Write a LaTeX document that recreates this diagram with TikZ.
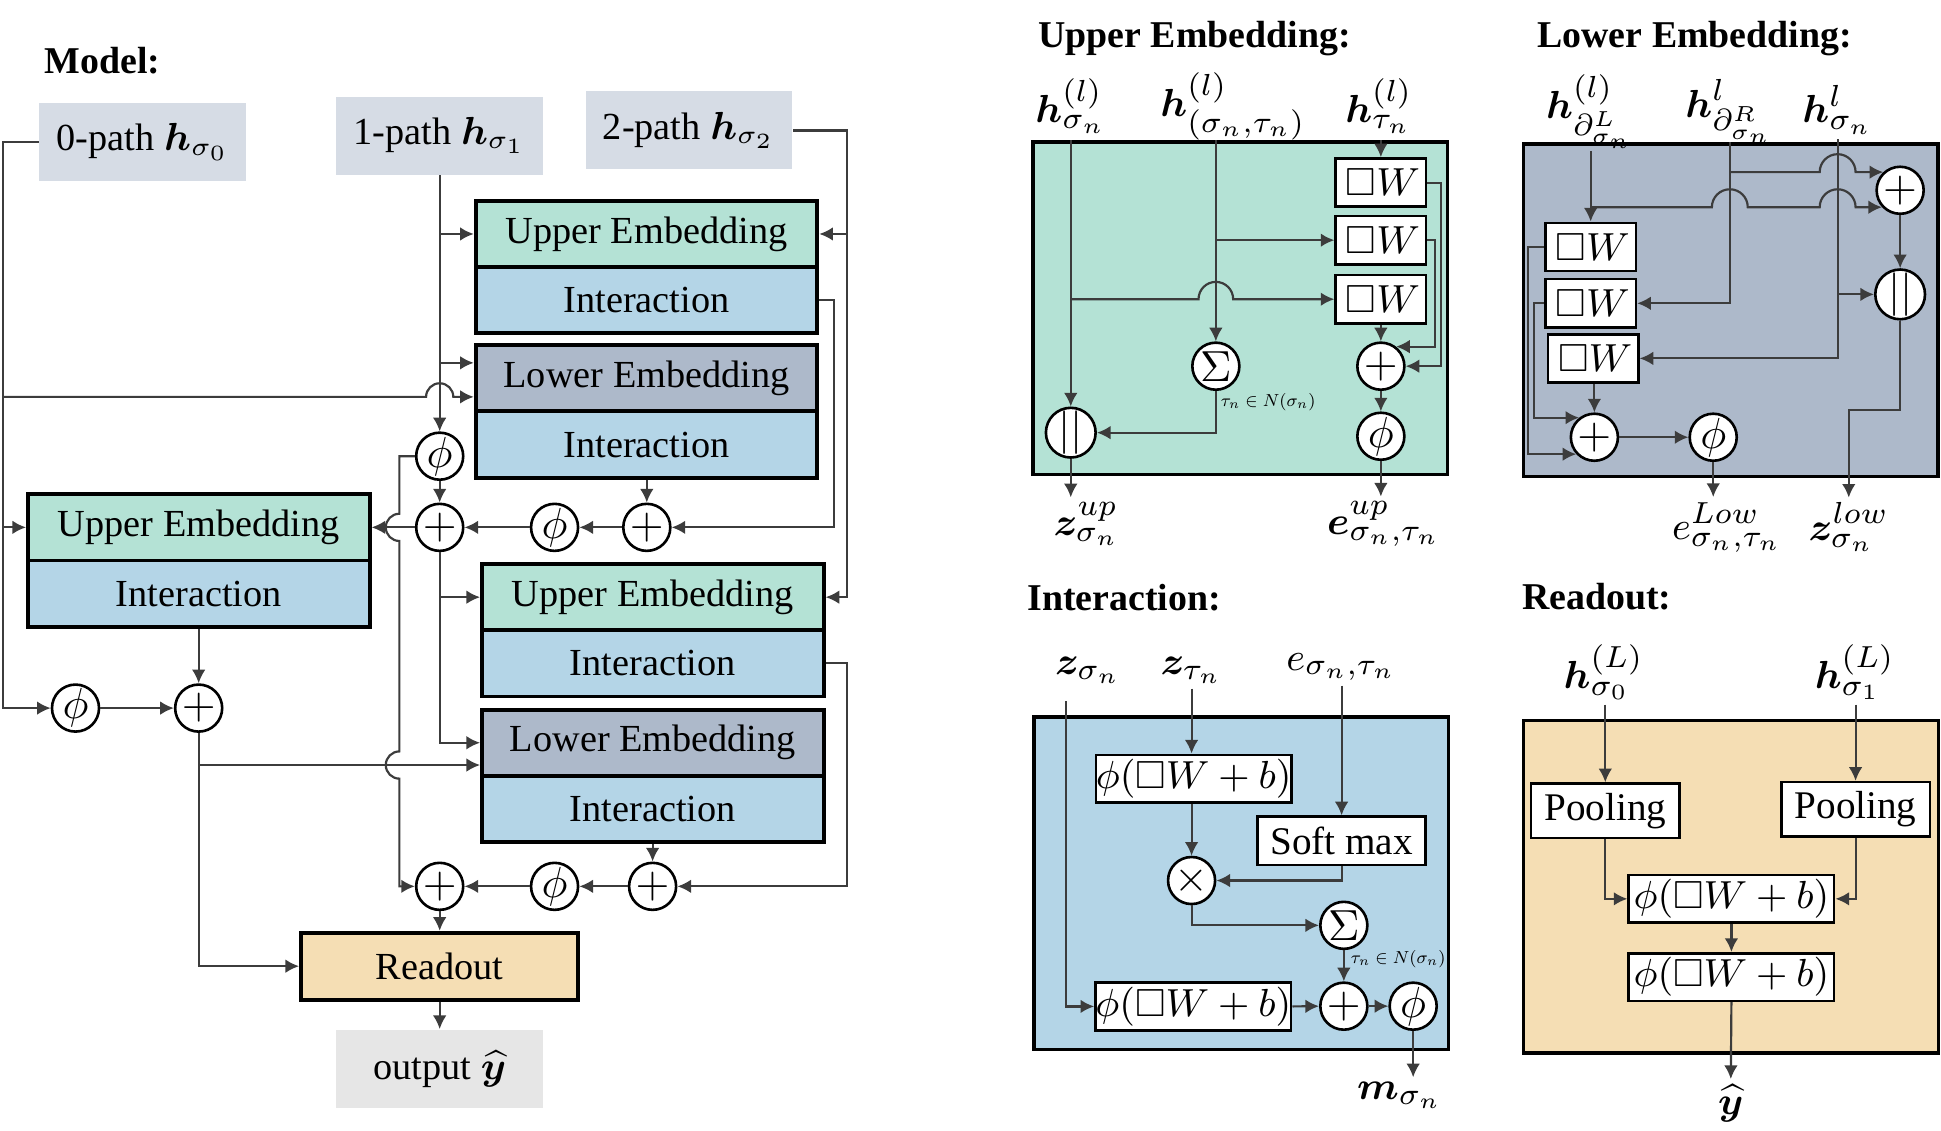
\documentclass[tikz,border=0pt]{standalone}
\usepackage{amsmath,amssymb,bm,graphicx}
\usepackage{fontspec}
\setmainfont{Liberation Serif}
\usetikzlibrary{arrows.meta}
\definecolor{upc}{RGB}{180,226,213}
\definecolor{intc}{RGB}{180,213,231}
\definecolor{lowc}{RGB}{173,185,202}
\definecolor{readc}{RGB}{245,222,180}
\definecolor{inc}{RGB}{214,220,229}
\definecolor{outc}{RGB}{230,230,230}
\definecolor{linec}{RGB}{60,60,60}
\newcommand{\nbh}{\scalebox{0.5}{$\tau_n\in N(\sigma_n)$}}
\tikzset{
  con/.style={->, draw=linec, line width=0.5pt},
  head/.style={font=\bfseries\fontsize{8.7}{10}\selectfont, inner sep=0pt},
  txt/.style={font=\fontsize{8.8}{10}\selectfont},
  inbox/.style={txt, fill=inc, minimum width=16.7mm, minimum height=6.3mm, inner sep=0pt},
  blk/.style={txt, draw=black, line width=0.9pt, minimum width=27.6mm, minimum height=5.35mm, inner sep=0pt},
  upbox/.style={blk, fill=upc},
  lowbox/.style={blk, fill=lowc},
  intbox/.style={blk, fill=intc},
  opc/.style={circle, draw=black, line width=0.6pt, fill=white, minimum size=3.8mm, inner sep=0pt, font=\fontsize{10}{10}\selectfont},
  panel/.style={draw=black, line width=0.8pt, minimum width=33.5mm, minimum height=26.85mm, inner sep=0pt},
  wbox/.style={draw=black, line width=0.6pt, fill=white, minimum height=3.9mm, inner ysep=0pt, inner xsep=0.5mm, text width=6.3mm, align=right, font=\fontsize{9}{10}\selectfont},
  tbox/.style={draw=black, line width=0.6pt, fill=white, inner sep=0pt, font=\fontsize{9}{10}\selectfont},
  actbox/.style={tbox, minimum width=15.4mm, minimum height=3.85mm},
  lab/.style={font=\fontsize{9.5}{11}\selectfont, inner sep=1pt},
  cond/.style={font=\fontsize{8}{9}\selectfont, inner sep=0pt}
}
\begin{document}
\begin{tikzpicture}[x=0.1mm, y=-0.1mm, node distance=5.35mm, >={Latex[length=1.1mm,width=1.1mm]}]
\useasboundingbox (0,0) rectangle (1568,913.6);
\node[head] (M) at (83,49) {Model:};
\node[inbox] (P0) at (115.4,114.7) {0-path $\bm{h}_{\sigma_0}$};
\node[inbox] (P1) at (355.2,109.5) {1-path $\bm{h}_{\sigma_1}$};
\node[inbox] (P2) at (556.6,105.4) {2-path $\bm{h}_{\sigma_2}$};
\node[upbox] (U1) at (522.3,189) {Upper Embedding};
\node[intbox] (I1) [below of=U1] {Interaction};
\node[lowbox] (L1) at (522.3,305.6) {Lower Embedding};
\node[intbox] (I2) [below of=L1] {Interaction};
\node[upbox] (U0) at (160.6,426) {Upper Embedding};
\node[intbox] (I0) [below of=U0] {Interaction};
\node[upbox] (U2) at (527.4,482.4) {Upper Embedding};
\node[intbox] (I3) [below of=U2] {Interaction};
\node[lowbox] (L2) at (527.4,600) {Lower Embedding};
\node[intbox] (I4) [below of=L2] {Interaction};
\node[blk, fill=readc, minimum width=22.4mm, minimum height=5.4mm] (R) at (355.2,780.5) {Readout};
\node[inbox, fill=outc] (O) at (355.2,863.5) {output $\widehat{\bm{y}}$};
\node[opc] (fa) at (355.2,368.5) {$\phi$};
\node[opc] (sa) at (355.2,426) {$+$};
\node[opc] (fb) at (448,426) {$\phi$};
\node[opc] (sb) at (522.5,426) {$+$};
\node[opc] (fc) at (61,572) {$\phi$};
\node[opc] (sc) at (160.5,572) {$+$};
\node[opc] (sd) at (355.2,716) {$+$};
\node[opc] (fd) at (448,716) {$\phi$};
\node[opc] (se) at (527.2,716) {$+$};
\coordinate (c0) at (2.5,115.8);
\coordinate (c1) at ([xshift=-1.25mm]fa.west);
\coordinate (L1a) at ([yshift=1.25mm]L1.west);
\coordinate (L1b) at ([yshift=-1.5mm]L1.west);
\coordinate (L2b) at ([yshift=-1.8mm]L2.west);
\draw[con] (P1.south) -- (fa.north);
\draw[con] (P1.south |- U1.west) -- (U1.west);
\draw[con] (P1.south |- L1a) -- (L1a);
\draw[con] (P0.west) -- (P0.west -| c0) |- (fc.west);
\draw[con] (c0 |- U0.west) -- (U0.west);
\draw[con] (c0 |- L1b) -- ([xshift=-1.1mm]P1.south |- L1b) arc[start angle=180, end angle=0, radius=1.1mm] -- (L1b);
\draw[con] (P2.east) -| ([xshift=1.7mm]U2.east) -- (U2.east);
\draw[con] ([xshift=1.7mm]U2.east |- U1.east) -- (U1.east);
\draw[con] (I1.east) -- ++(12,0) |- (sb.east);
\draw[con] (sb.north |- I2.south) -- (sb.north);
\draw[con] (sb.west) -- (fb.east);
\draw[con] (fb.west) -- (sa.east);
\draw[con] (fa.south) -- (sa.north);
\draw[con] (sa.west) -- (sa.west -| U0.east);
\draw[con] (sa.south) |- (L2.west);
\draw[con] (sa.south |- U2.west) -- (U2.west);
\draw[con] (fa.west) -- (c1) -- ([yshift=1.1mm]c1 |- sa.west) arc[start angle=90, end angle=270, radius=1.1mm] -- ([yshift=1.1mm]c1 |- L2b) arc[start angle=90, end angle=270, radius=1.1mm] |- (sd.west);
\draw[con] (sc.north |- I0.south) -- (sc.north);
\draw[con] (fc.east) -- (sc.west);
\draw[con] (sc.south) |- (R.west);
\draw[con] (sc.south |- L2b) -- (L2b);
\draw[con] (I3.east) -- ++(17,0) |- (se.east);
\draw[con] (se.north |- I4.south) -- (se.north);
\draw[con] (se.west) -- (fd.east);
\draw[con] (fd.west) -- (sd.east);
\draw[con] (sd.south) -- (R.north);
\draw[con] (R.south) -- (O.north);

\node[head] (HU) at (965,31) {Upper Embedding:};
\node[panel, fill=upc] (PU) at (1002,249) {};
\node[lab] (hu1) at (865,85.6) {$\bm{h}^{(l)}_{\sigma_n}$};
\node[lab] (hu2) at (996.2,85.6) {$\bm{h}^{(l)}_{(\sigma_n,\tau_n)}$};
\node[lab] (hu3) at (1114,85.6) {$\bm{h}^{(l)}_{\tau_n}$};
\node[wbox] (w1) at (1115.5,147.5) {$\square W$};
\node[wbox] (w2) at (1115.5,194) {$\square W$};
\node[wbox] (w3) at (1115.5,241.7) {$\square W$};
\node[opc] (cat1) at (865,349.5) {$||$};
\node[opc] (sum1) at (982.2,295.8) {$\Sigma$};
\node[opc] (add1) at (1115.5,295.8) {$+$};
\node[opc] (act1) at (1115.5,352.4) {$\phi$};
\node[cond] (nb1) at (1024.5,324.8) {\nbh};
\node[lab] (zu) at (877.8,423.4) {$\bm{z}^{up}_{\sigma_n}$};
\node[lab] (eu) at (1117.9,423.4) {$\bm{e}^{up}_{\sigma_n,\tau_n}$};
\draw[con] (cat1.north |- PU.north) -- (cat1.north);
\draw[con] (cat1.north |- w3.west) -- ([xshift=-1.4mm]sum1.north |- w3.west) arc[start angle=180, end angle=0, radius=1.4mm] -- (w3.west);
\draw[con] (sum1.north |- PU.north) -- (sum1.north);
\draw[con] (sum1.north |- w2.west) -- (w2.west);
\draw[con] (sum1.south) |- (cat1.east);
\draw[con] (w1.north |- PU.north) -- (w1.north);
\draw[con] (w3.south) -- (add1.north);
\draw[con] (w1.east) -- ++(11,0) |- (add1.east);
\draw[con] (w2.east) -- ++(6,0) |- (add1.52);
\draw[con] (add1.south) -- (act1.north);
\draw[con] (act1.south) -- (act1.south |- eu.north);
\draw[con] (cat1.south) -- (cat1.south |- zu.north);

\node[head] (HL) at (1369,31) {Lower Embedding:};
\node[panel, fill=lowc] (PL) at (1398.1,250.6) {};
\node[lab] (hl1) at (1285,90) {$\bm{h}^{(l)}_{\partial^L_{\sigma_n}}$};
\node[lab] (hl2) at (1397.4,90) {$\bm{h}^{l}_{\partial^R_{\sigma_n}}$};
\node[lab] (hl3) at (1484.5,88.5) {$\bm{h}^{l}_{\sigma_n}$};
\node[wbox] (v1) at (1285,199.5) {$\square W$};
\node[wbox] (v2) at (1285,245) {$\square W$};
\node[wbox] (v3) at (1287,289.5) {$\square W$};
\node[opc] (add2) at (1535,153.7) {$+$};
\node[opc] (cat2) at (1535,237.8) {$||$};
\node[opc] (add3) at (1288,353.2) {$+$};
\node[opc] (act2) at (1384,353.2) {$\phi$};
\node[lab] (el) at (1395.2,426) {$e^{Low}_{\sigma_n,\tau_n}$};
\node[lab] (zl) at (1493.5,426) {$\bm{z}^{low}_{\sigma_n}$};
\draw[con] ([yshift=-0.7mm]v1.north |- PL.north) -- (v1.north);
\draw[con] (v1.north |- add2.223) -- ([xshift=-1.45mm]hl2.south |- add2.223) arc[start angle=180, end angle=0, radius=1.45mm] -- ([xshift=-1.45mm]hl3.south |- add2.223) arc[start angle=180, end angle=0, radius=1.45mm] -- (add2.223);
\draw[con] (hl2.south |- PL.north) |- (v2.east);
\draw[con] (hl2.south |- add2.133) -- ([xshift=-1.45mm]hl3.south |- add2.133) arc[start angle=180, end angle=0, radius=1.45mm] -- (add2.133);
\draw[con] (hl3.south) |- (v3.east);
\draw[con] (hl3.south |- cat2.west) -- (cat2.west);
\draw[con] (add2.south) -- (cat2.north);
\draw[con] (cat2.south) -- ++(0,72) -| (zl.north);
\draw[con] (v1.west) -- ++(-13,0) |- (add3.223);
\draw[con] (v2.west) -- ++(-8,0) |- (add3.128);
\draw[con] (add3.north |- v3.south) -- (add3.north);
\draw[con] (add3.east) -- (act2.west);
\draw[con] (act2.south) -- (act2.south |- el.north);

\node[head] (HI) at (908,483) {Interaction:};
\node[panel, fill=intc] (PI) at (1002.6,713.5) {};
\node[lab] (zs) at (879,541.6) {$\bm{z}_{\sigma_n}$};
\node[lab] (zt) at (962.6,541.6) {$\bm{z}_{\tau_n}$};
\node[lab] (es) at (1083.7,538.7) {$e_{\sigma_n,\tau_n}$};
\node[actbox] (g1) at (964.3,629) {$\phi(\square W+b)$};
\node[tbox, minimum width=13.6mm, minimum height=3.9mm] (sm) at (1083.8,679.2) {Soft max};
\node[opc] (mul) at (962.6,711.3) {$\times$};
\node[opc] (sum2) at (1085.6,747.5) {$\Sigma$};
\node[cond] (nb2) at (1129.5,775) {\nbh};
\node[actbox] (g2) at (964,813) {$\phi(\square W+b)$};
\node[opc] (add4) at (1085.6,812.8) {$+$};
\node[opc] (act3) at (1141.6,812.8) {$\phi$};
\node[lab] (ms) at (1130.9,885) {$\bm{m}_{\sigma_n}$};
\draw[con] ([xshift=-1.8mm,yshift=-1mm]zs.south) |- (g2.west);
\draw[con] (zt.south) -- (zt.south |- g1.north);
\draw[con] (sm.north |- es.south) -- (sm.north);
\draw[con] (mul.north |- g1.south) -- (mul.north);
\draw[con] (sm.south) |- (mul.east);
\draw[con] (mul.south) |- (sum2.west);
\draw[con] (sum2.south) -- (add4.north);
\draw[con] (g2.east) -- (add4.west);
\draw[con] (add4.east) -- (act3.west);
\draw[con] (act3.south) -- (act3.south |- ms.north);

\node[head] (HR) at (1290,482) {Readout:};
\node[panel, fill=readc] (PR) at (1398.4,716.3) {};
\node[lab] (r0) at (1295.6,543) {$\bm{h}^{(L)}_{\sigma_0}$};
\node[lab] (r1) at (1498.4,543) {$\bm{h}^{(L)}_{\sigma_1}$};
\node[tbox, minimum width=12mm, minimum height=4.4mm] (pool1) at (1296.8,655) {Pooling};
\node[tbox, minimum width=12mm, minimum height=4.4mm] (pool2) at (1499,653.8) {Pooling};
\node[actbox, minimum width=16.6mm] (q1) at (1398.7,726.1) {$\phi(\square W+b)$};
\node[actbox, minimum width=16.6mm] (q2) at (1398.7,789.3) {$\phi(\square W+b)$};
\node[lab] (yh) at (1398.2,891) {$\widehat{\bm{y}}$};
\draw[con] (pool1.north |- r0.south) -- (pool1.north);
\draw[con] (pool2.north |- r1.south) -- (pool2.north);
\draw[con] (pool1.south) |- (q1.west);
\draw[con] (pool2.south) |- (q1.east);
\draw[con] (q1.south) -- (q2.north);
\draw[con] (q2.south) -- (yh.north);
\end{tikzpicture}
\end{document}
